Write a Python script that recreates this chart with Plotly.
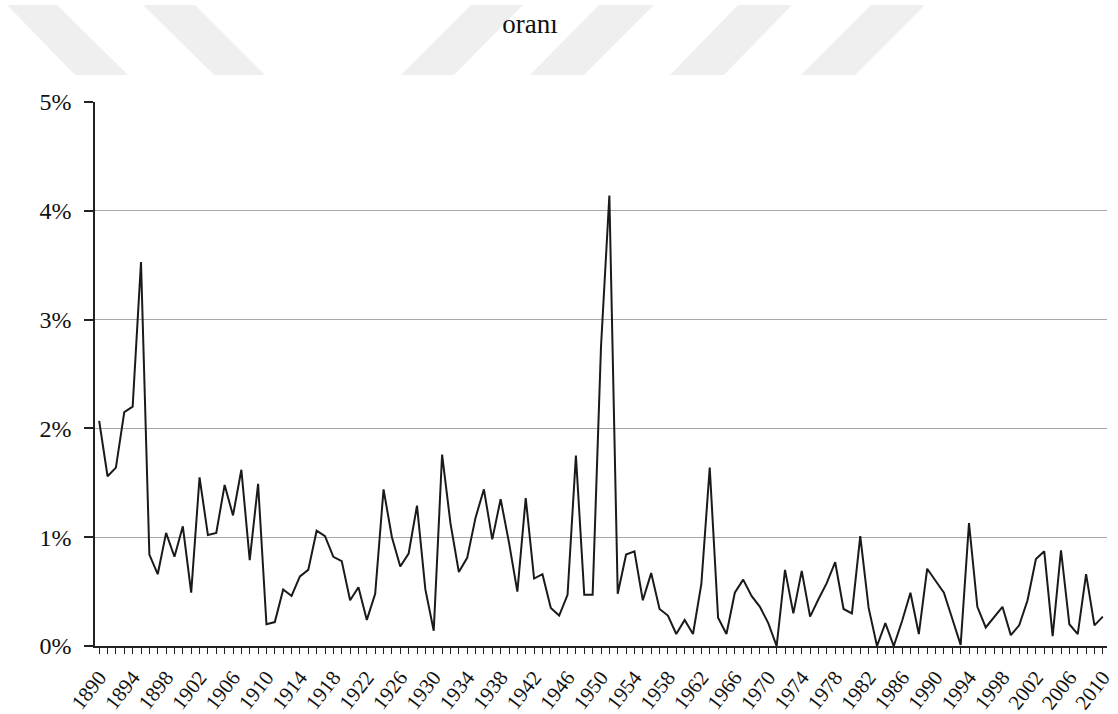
import plotly.graph_objects as go

years = list(range(1890, 2011))
rates = [
    2.07, 1.56, 1.64, 2.15, 2.20, 3.53, 0.84, 0.66, 1.04, 0.82,   # 1890-1899
    1.10, 0.49, 1.55, 1.02, 1.04, 1.48, 1.20, 1.62, 0.79, 1.49,   # 1900-1909
    0.20, 0.22, 0.52, 0.46, 0.64, 0.70, 1.06, 1.01, 0.82, 0.78,   # 1910-1919
    0.42, 0.54, 0.24, 0.48, 1.44, 1.00, 0.73, 0.85, 1.29, 0.52,   # 1920-1929
    0.14, 1.76, 1.13, 0.68, 0.81, 1.18, 1.44, 0.98, 1.35, 0.95,   # 1930-1939
    0.50, 1.36, 0.62, 0.66, 0.35, 0.28, 0.47, 1.75, 0.47, 0.47,   # 1940-1949
    2.75, 4.14, 0.48, 0.84, 0.87, 0.42, 0.67, 0.34, 0.28, 0.11,   # 1950-1959
    0.24, 0.11, 0.57, 1.64, 0.26, 0.11, 0.49, 0.61, 0.46, 0.36,   # 1960-1969
    0.21, 0.00, 0.70, 0.30, 0.69, 0.27, 0.43, 0.58, 0.77, 0.34,   # 1970-1979
    0.30, 1.01, 0.35, 0.00, 0.21, 0.00, 0.23, 0.49, 0.11, 0.71,   # 1980-1989
    0.60, 0.49, 0.25, 0.01, 1.13, 0.36, 0.17, 0.26, 0.36, 0.10,   # 1990-1999
    0.19, 0.42, 0.80, 0.87, 0.09, 0.88, 0.20, 0.11, 0.66, 0.19,   # 2000-2009
    0.27,                                                         # 2010
]
x_tick_years = list(range(1890, 2011, 4))
y_ticks = [0, 1, 2, 3, 4, 5]
title_text = "oranı"

W, H = 1118, 714
L, R, T, B = 95, 11, 102, 68
pw, ph = W - L - R, H - T - B

def px_to_paper(px, py):
    return (px - L) / pw, (H - B - py) / ph

# decorative watermark stripes above the chart (pixel geometry)
stripes = [
    [(7, 5), (57, 5), (128, 75), (75, 75)],
    [(143, 5), (195, 5), (265, 75), (214, 75)],
    [(471, 5), (523, 5), (454, 75), (401, 75)],
    [(599, 5), (654, 5), (584, 75), (530, 75)],
    [(738, 5), (792, 5), (724, 75), (670, 75)],
    [(871, 5), (925, 5), (855, 75), (801, 75)],
]
shapes = []
for poly in stripes:
    pts = [px_to_paper(a, b) for a, b in poly]
    path = "M " + " L ".join(f"{a:.5f},{b:.5f}" for a, b in pts) + " Z"
    shapes.append(dict(type="path", xref="paper", yref="paper", path=path,
                       fillcolor="#efefef", line=dict(width=0), layer="below"))

serif = "Liberation Serif, Times New Roman, serif"

fig = go.Figure()
fig.add_trace(go.Scatter(x=years, y=rates, mode="lines",
                         line=dict(color="#1a1a1a", width=2), showlegend=False))

fig.update_layout(
    width=W, height=H,
    margin=dict(l=L, r=R, t=T, b=B, autoexpand=False),
    paper_bgcolor="white", plot_bgcolor="white",
    shapes=shapes,
    title=dict(text=title_text, x=530 / W, xref="container", xanchor="center",
               y=1 - 24 / H, yref="container", yanchor="middle",
               font=dict(family=serif, size=27, color="#111111")),
    font=dict(family=serif, color="#111111"),
)
fig.update_xaxes(
    range=[1889.5, 2010.5], automargin=False,
    tickmode="array", tickvals=x_tick_years, ticktext=[str(y) for y in x_tick_years],
    tickangle=-52, tickfont=dict(family=serif, size=21, color="#111111"),
    ticks="outside", ticklen=6, tickwidth=1, tickcolor="#222222",
    ticklabelstandoff=3,
    minor=dict(dtick=1, tick0=1890, ticks="outside", ticklen=6, tickwidth=1,
               tickcolor="#222222", showgrid=False),
    showline=True, linecolor="#222222", linewidth=1.5,
    showgrid=False, zeroline=False,
)
fig.update_yaxes(
    range=[0, 5], automargin=False,
    tickmode="array", tickvals=y_ticks, ticktext=[f"{v}%" for v in y_ticks],
    tickfont=dict(family=serif, size=24, color="#111111"),
    ticks="outside", ticklen=9, tickwidth=1.5, tickcolor="#222222",
    ticklabelstandoff=8,
    showline=True, linecolor="#222222", linewidth=1.5,
    showgrid=True, gridcolor="#a8a8a8", gridwidth=1,
    zeroline=False,
)

fig.write_html("out.html", config={"displayModeBar": False},
               post_script="document.body.style.margin='0';document.body.style.overflow='hidden';")
